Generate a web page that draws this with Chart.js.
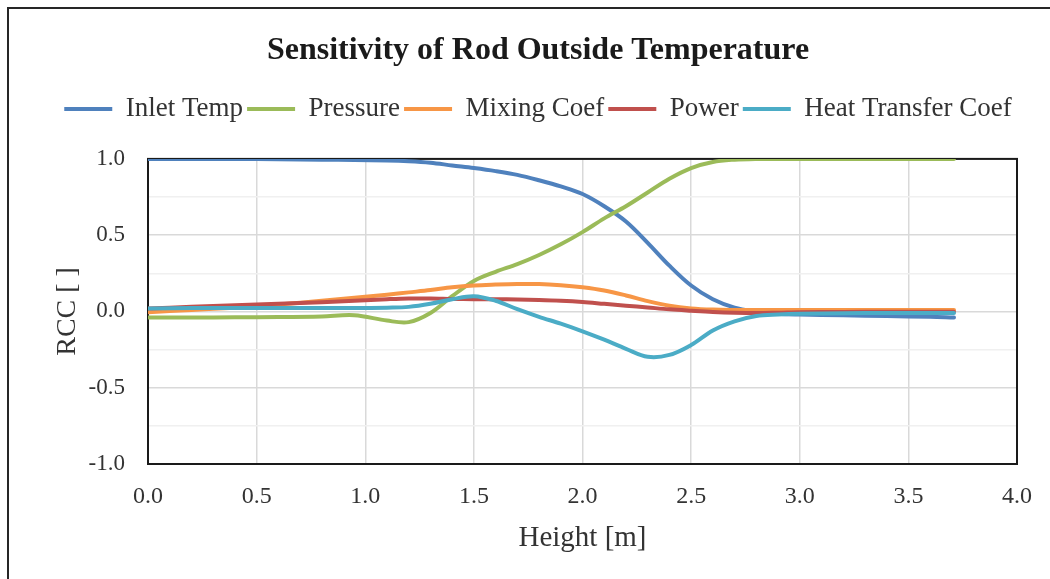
<!DOCTYPE html>
<html>
<head>
<meta charset="utf-8">
<script src="https://cdn.jsdelivr.net/npm/chart.js@4.4.0/dist/chart.umd.min.js"></script>
<style>
  html, body { margin: 0; padding: 0; background: #fff; overflow: hidden; }
  canvas { display: block; }
</style>
</head>
<body>
<canvas id="graf" width="1050" height="579"></canvas>
<script>
// datos
const heights = [0, 0.2, 0.4, 0.6, 0.8, 0.95, 1.1, 1.2, 1.3, 1.4, 1.5, 1.6, 1.7, 1.8, 1.9,
  2.0, 2.1, 2.2, 2.3, 2.4, 2.5, 2.6, 2.7, 2.8, 2.9, 3.0, 3.2, 3.4, 3.6, 3.71];
const inletTemp = [1.0, 1.0, 1.0, 0.998, 0.995, 0.993, 0.99, 0.985, 0.975, 0.957, 0.94, 0.92, 0.895, 0.86, 0.82,
  0.77, 0.69, 0.59, 0.45, 0.3, 0.17, 0.08, 0.025, 0.0, -0.015, -0.02, -0.025, -0.03, -0.035, -0.04];
const pressure = [-0.04, -0.04, -0.038, -0.037, -0.033, -0.025, -0.06, -0.07, -0.01, 0.1, 0.2, 0.26, 0.31, 0.37, 0.44,
  0.52, 0.61, 0.69, 0.78, 0.87, 0.94, 0.98, 0.995, 1.0, 1.0, 1.0, 1.0, 1.0, 1.0, 1.0];
const mixingCoef = [-0.005, 0.01, 0.025, 0.045, 0.07, 0.09, 0.11, 0.125, 0.14, 0.158, 0.17, 0.176, 0.18, 0.18, 0.172,
  0.158, 0.137, 0.105, 0.068, 0.038, 0.02, 0.012, 0.01, 0.01, 0.01, 0.01, 0.01, 0.01, 0.01, 0.01];
const power = [0.02, 0.03, 0.04, 0.05, 0.06, 0.07, 0.08, 0.085, 0.085, 0.082, 0.08, 0.08, 0.078, 0.075, 0.07,
  0.062, 0.05, 0.038, 0.026, 0.014, 0.005, -0.003, -0.008, -0.01, -0.008, -0.005, -0.003, -0.002, -0.002, -0.002];
const heatTransferCoef = [0.02, 0.022, 0.022, 0.022, 0.022, 0.022, 0.025, 0.03, 0.05, 0.08, 0.1, 0.07, 0.015, -0.035, -0.08,
  -0.13, -0.185, -0.245, -0.297, -0.285, -0.22, -0.125, -0.065, -0.03, -0.02, -0.015, -0.012, -0.01, -0.01, -0.01];

const seriesNames = ["Inlet Temp", "Pressure", "Mixing Coef", "Power", "Heat Transfer Coef"];
const seriesColors = ["#4F81BD", "#9BBB59", "#F79646", "#C0504D", "#4BACC6"];
const seriesValues = [inletTemp, pressure, mixingCoef, power, heatTransferCoef];

const fuente = "'Liberation Serif', 'Times New Roman', serif";

function puntos(valores){
  return heights.map((h, i) => ({x: h, y: valores[i]}));
}

let datasets = seriesNames.map((nombre, i) => ({
  label: nombre,
  data: puntos(seriesValues[i]),
  borderColor: seriesColors[i],
  backgroundColor: seriesColors[i],
  borderWidth: 4,
  borderCapStyle: 'round',
  pointRadius: 0,
  tension: 0.35,
  yAxisID: 'y',
  order: seriesNames.length - i
}));

// marco exterior y marco del area de grafica
const marcos = {
  id: 'marcos',
  afterInit(chart){
    const legend = chart.legend;
    const fit = legend.fit;
    legend.fit = function(){ fit.call(this); this.height += 26.5; };
  },
  beforeDraw(chart){
    const c = chart.ctx;
    c.save();
    c.fillStyle = '#fff';
    c.fillRect(0, 0, chart.width, chart.height);
    c.strokeStyle = '#262626';
    c.lineWidth = 2;
    c.strokeRect(8, 8, 1200, 800);
    c.restore();
  },
  beforeDatasetsDraw(chart){
    const a = chart.chartArea;
    const c = chart.ctx;
    c.save();
    c.strokeStyle = '#1a1a1a';
    c.lineWidth = 2;
    c.strokeRect(a.left, a.top, a.right - a.left, a.bottom - a.top);
    c.restore();
  }
};

let ctx = document.getElementById('graf').getContext('2d');
let graf = new Chart(ctx, {
  type: 'line',
  data: { datasets: datasets },
  plugins: [marcos],
  options: {
    responsive: false,
    animation: false,
    layout: { padding: { top: 0, left: 26, right: 0, bottom: 0 } },
    plugins: {
      title: {
        display: true,
        text: 'Sensitivity of Rod Outside Temperature',
        color: '#1a1a1a',
        font: { family: fuente, size: 32, weight: 'bold' },
        padding: { top: 32, bottom: 21 }
      },
      legend: {
        display: true,
        position: 'top',
        labels: {
          usePointStyle: true,
          pointStyle: 'line',
          pointStyleWidth: 48,
          padding: 4,
          color: '#333',
          font: { family: fuente, size: 27 },
          sort: (a, b) => a.datasetIndex - b.datasetIndex
        }
      },
      tooltip: { enabled: false }
    },
    scales: {
      x: {
        type: 'linear',
        min: 0,
        max: 4,
        afterFit(scale){ scale.height = 115; },
        ticks: {
          stepSize: 0.5,
          padding: 18,
          color: '#333',
          font: { family: fuente, size: 24 },
          callback: (v) => v.toFixed(1)
        },
        grid: { color: '#d9d9d9', lineWidth: 1.5, drawTicks: false },
        border: { display: false },
        title: {
          display: true,
          text: 'Height [m]',
          color: '#333',
          font: { family: fuente, size: 29 },
          padding: { top: 0, bottom: 23.6 }
        }
      },
      y: {
        min: -1,
        max: 1,
        afterFit(scale){ scale.width = 122; },
        ticks: {
          stepSize: 0.25,
          autoSkip: false,
          padding: 23,
          color: '#333',
          font: { family: fuente, size: 23 },
          callback: (v) => (Math.abs(v * 2 - Math.round(v * 2)) < 1e-9 ? v.toFixed(1) : '')
        },
        grid: {
          drawTicks: false,
          lineWidth: 1.5,
          color: (c) => (Math.abs(c.tick.value * 2 - Math.round(c.tick.value * 2)) < 1e-9 ? '#d9d9d9' : '#f0f0f0')
        },
        border: { display: false },
        title: {
          display: true,
          text: 'RCC [ ]',
          color: '#333',
          font: { family: fuente, size: 28 },
          padding: { top: 24.6, bottom: 0 }
        }
      },
      // eje vacio para dejar margen a la derecha
      y2: {
        position: 'right',
        min: -1,
        max: 1,
        afterFit(scale){ scale.width = 32; },
        ticks: { display: false },
        grid: { display: false },
        border: { display: false }
      }
    }
  }
});
</script>
</body>
</html>
